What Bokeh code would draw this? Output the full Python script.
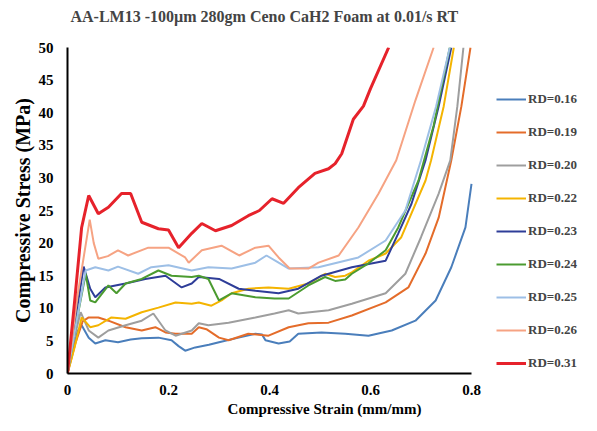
from bokeh.plotting import figure
from bokeh.models import Range1d, Legend, LegendItem, FixedTicker, Title
from bokeh.embed import file_html
from bokeh.resources import INLINE

labels = ["RD=0.16", "RD=0.19", "RD=0.20", "RD=0.22", "RD=0.23",
          "RD=0.24", "RD=0.25", "RD=0.26", "RD=0.31"]
colors = ["#4A7EBB", "#E46C2A", "#9E9E9E", "#F4B400", "#2E3D98",
          "#4B9B30", "#9DBFE6", "#F6A383", "#E6222B"]

strain_016 = [0, 0.01, 0.02, 0.028, 0.042, 0.055, 0.075, 0.1, 0.125, 0.147, 0.18, 0.206, 0.22, 0.233, 0.253,
              0.28, 0.3, 0.339, 0.372, 0.385, 0.392, 0.418, 0.44, 0.457, 0.503, 0.55, 0.596, 0.642, 0.689,
              0.729, 0.76, 0.788, 0.8]
stress_016 = [0, 3.5, 6.5, 7.4, 5.5, 4.6, 5.1, 4.8, 5.2, 5.4, 5.5, 5.1, 4.2, 3.5, 4.0,
              4.4, 4.8, 5.5, 6.1, 6.0, 5.1, 4.6, 4.9, 6.1, 6.3, 6.1, 5.8, 6.6, 8.1,
              11.2, 16.3, 22.4, 29.1]

strain_019 = [0, 0.015, 0.03, 0.042, 0.061, 0.081, 0.115, 0.147, 0.174, 0.194, 0.214, 0.246, 0.26, 0.275,
              0.3, 0.319, 0.358, 0.398, 0.438, 0.477, 0.517, 0.563, 0.63, 0.675, 0.709, 0.735, 0.76, 0.78, 0.798]
stress_019 = [0, 4.5, 8.0, 8.6, 8.6, 8.1, 7.1, 6.6, 7.1, 6.3, 6.1, 6.1, 7.1, 6.8,
              5.5, 5.1, 6.1, 5.8, 7.1, 7.7, 7.8, 8.9, 10.9, 13.2, 18.4, 23.9, 32.7, 41.0, 50.0]

strain_020 = [0, 0.012, 0.026, 0.042, 0.061, 0.081, 0.115, 0.147, 0.17, 0.194, 0.214, 0.246, 0.26, 0.279,
              0.319, 0.372, 0.41, 0.438, 0.457, 0.517, 0.563, 0.63, 0.669, 0.7, 0.735, 0.758, 0.772, 0.784]
stress_020 = [0, 5.0, 9.4, 6.6, 5.5, 6.6, 7.4, 8.1, 9.2, 6.6, 5.8, 6.6, 7.7, 7.4,
              7.8, 8.6, 9.2, 9.7, 9.2, 9.7, 10.7, 12.3, 15.3, 20.9, 27.6, 32.7, 41.0, 50.0]

strain_022 = [0, 0.014, 0.028, 0.045, 0.061, 0.087, 0.115, 0.147, 0.18, 0.214, 0.246, 0.26, 0.285, 0.305,
              0.325, 0.358, 0.398, 0.438, 0.477, 0.51, 0.53, 0.55, 0.563, 0.596, 0.63, 0.661, 0.709, 0.72,
              0.745, 0.765]
stress_022 = [0, 4.0, 8.6, 7.1, 7.4, 8.6, 8.4, 9.4, 10.1, 10.9, 10.7, 10.9, 10.4, 11.2,
              12.3, 13.0, 13.2, 13.0, 13.8, 15.3, 14.8, 15.0, 15.5, 17.3, 18.4, 20.9, 29.6, 32.7,
              41.0, 50.0]

strain_023 = [0, 0.015, 0.032, 0.045, 0.055, 0.075, 0.115, 0.154, 0.194, 0.226, 0.246, 0.26, 0.3, 0.339,
              0.372, 0.418, 0.457, 0.503, 0.563, 0.63, 0.655, 0.681, 0.709, 0.735, 0.76]
stress_023 = [0, 8.0, 16.4, 13.0, 11.7, 13.2, 13.8, 14.5, 15.0, 13.2, 13.8, 14.8, 14.5, 13.0,
              12.7, 12.3, 13.0, 15.0, 16.3, 17.3, 21.5, 26.0, 32.7, 41.0, 50.0]

strain_024 = [0, 0.018, 0.036, 0.045, 0.055, 0.081, 0.097, 0.115, 0.147, 0.18, 0.206, 0.246, 0.26, 0.279,
              0.3, 0.325, 0.372, 0.41, 0.438, 0.477, 0.51, 0.53, 0.55, 0.563, 0.596, 0.63, 0.655, 0.695,
              0.725, 0.757]
stress_024 = [0, 8.0, 15.3, 11.2, 10.9, 13.5, 12.3, 13.8, 14.5, 15.8, 15.0, 14.8, 15.0, 14.5,
              11.2, 12.3, 11.7, 11.5, 11.5, 13.5, 14.8, 14.2, 14.4, 15.3, 16.9, 18.9, 22.4, 29.6,
              38.0, 50.0]

strain_025 = [0, 0.018, 0.036, 0.055, 0.081, 0.1, 0.14, 0.166, 0.2, 0.246, 0.279, 0.325, 0.372, 0.394,
              0.418, 0.438, 0.497, 0.576, 0.63, 0.669, 0.7, 0.73, 0.757]
stress_025 = [0, 8.0, 15.8, 16.3, 15.8, 16.4, 15.3, 16.3, 16.6, 15.8, 16.3, 16.1, 17.0, 18.1,
              17.0, 16.1, 16.3, 17.8, 20.4, 25.0, 32.7, 41.0, 50.0]

strain_026 = [0, 0.02, 0.044, 0.052, 0.061, 0.08, 0.1, 0.12, 0.16, 0.2, 0.233, 0.24, 0.266, 0.305,
              0.34, 0.372, 0.398, 0.418, 0.44, 0.477, 0.497, 0.537, 0.576, 0.616, 0.651, 0.689, 0.725]
stress_026 = [0, 12.0, 23.6, 20.0, 17.6, 18.0, 18.9, 18.1, 19.3, 19.3, 17.8, 17.0, 18.9, 19.6,
              18.1, 19.3, 19.6, 17.8, 16.1, 16.1, 17.0, 18.1, 22.4, 27.6, 32.7, 41.9, 50.0]

strain_031 = [0, 0.014, 0.028, 0.042, 0.061, 0.081, 0.107, 0.125, 0.147, 0.18, 0.2, 0.22, 0.246, 0.266,
              0.293, 0.325, 0.358, 0.38, 0.405, 0.428, 0.457, 0.49, 0.517, 0.53, 0.543, 0.566, 0.586,
              0.6, 0.636]
stress_031 = [0, 11.0, 22.4, 27.3, 24.5, 25.5, 27.6, 27.6, 23.2, 22.2, 22.0, 19.3, 21.5, 23.0,
              21.9, 22.7, 24.2, 25.0, 26.8, 26.1, 28.5, 30.7, 31.4, 32.2, 33.7, 39.0, 41.0,
              43.7, 50.0]

strains = [strain_016, strain_019, strain_020, strain_022, strain_023,
           strain_024, strain_025, strain_026, strain_031]
stresses = [stress_016, stress_019, stress_020, stress_022, stress_023,
            stress_024, stress_025, stress_026, stress_031]

x_ticks = [0, 0.2, 0.4, 0.6, 0.8]
y_ticks = [0, 5, 10, 15, 20, 25, 30, 35, 40, 45, 50]

FONT = "Liberation Serif"

LEFT, TOP, BOTTOM = 67, 46, 44
AXIS_PX = 404          # pixel length of the 0..0.8 strain axis
FRAME_W, FRAME_H = 514, 326
X_MAX = 0.8
x_end = X_MAX * FRAME_W / AXIS_PX

p = figure(frame_width=FRAME_W, frame_height=FRAME_H, output_backend="svg", toolbar_location=None,
           x_range=Range1d(0, x_end), y_range=Range1d(0, 50),
           min_border_left=LEFT, min_border_right=0, min_border_top=TOP, min_border_bottom=BOTTOM,
           title="AA-LM13 -100\u00b5m 280gm Ceno CaH2 Foam at 0.01/s RT")

p.title.text_font = FONT
p.title.text_font_style = "bold"
p.title.text_font_size = "16px"
p.title.align = "left"
p.title.offset = 3

# small empty spacer between the title and the plot area
p.add_layout(Title(text=" ", text_font_size="6px"), "above")

p.outline_line_color = None
p.xgrid.visible = False
p.ygrid.visible = False

for ax in (p.xaxis, p.yaxis):
    ax.axis_line_color = "black"
    ax.axis_line_width = 2
    ax.major_tick_line_color = None
    ax.minor_tick_line_color = None
    ax.major_label_text_font = FONT
    ax.major_label_text_font_style = "bold"
    ax.major_label_text_font_size = "15px"
    ax.axis_label_text_font = FONT
    ax.axis_label_text_font_style = "bold"
    ax.major_label_text_color = "black"
    ax.axis_label_text_color = "black"

p.xaxis.bounds = (0, X_MAX)
p.xaxis.ticker = FixedTicker(ticks=x_ticks)
p.yaxis.ticker = FixedTicker(ticks=y_ticks)
p.xaxis.axis_label = "Compressive Strain (mm/mm)"
p.yaxis.axis_label = "Compressive Stress (MPa)"
p.xaxis.axis_label_text_font_size = "15px"
p.yaxis.axis_label_text_font_size = "20px"
p.xaxis.major_label_standoff = 5
p.yaxis.major_label_standoff = 8
p.xaxis.axis_label_standoff = 3
p.yaxis.axis_label_standoff = 2

items = []
for i in range(len(labels)):
    lw = 3 if labels[i] == "RD=0.31" else 2
    r = p.line(strains[i], stresses[i], line_color=colors[i], line_width=lw)
    items.append(LegendItem(label=labels[i], renderers=[r]))

legend = Legend(items=items, location=(429, 0))
legend.border_line_color = None
legend.background_fill_alpha = 0
legend.label_text_font = FONT
legend.label_text_font_style = "bold"
legend.label_text_font_size = "13px"
legend.glyph_width = 30
legend.glyph_height = 20
legend.label_height = 20
legend.spacing = 13
legend.padding = 0
legend.margin = 0
legend.label_standoff = 2
p.add_layout(legend, "center")

open("out.html", "w").write(file_html(p, INLINE))
